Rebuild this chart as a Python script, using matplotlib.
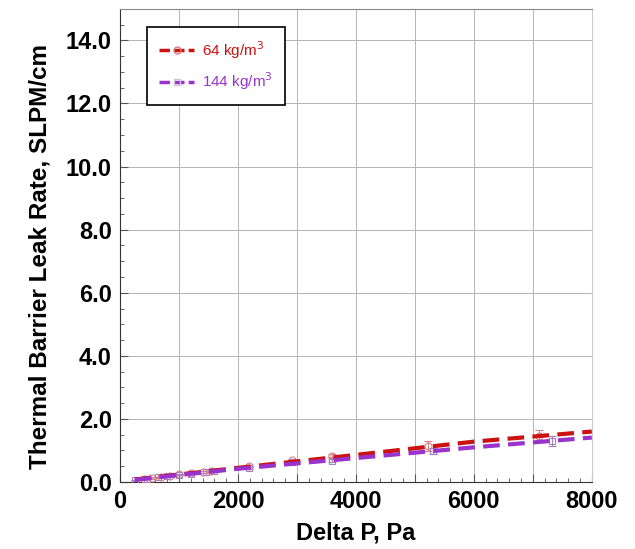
import matplotlib
matplotlib.use("Agg")
import matplotlib.pyplot as plt
from matplotlib.ticker import MultipleLocator, FuncFormatter

plt.rcParams['font.family'] = ['Liberation Sans', 'DejaVu Sans']

# measured leak rates, 64 kg/m3 insulation
dp_64 = [400, 550, 700, 850, 1000, 1200, 1400, 1550, 2190, 2920, 3590, 5220, 7100]
leak_64 = [0.10, 0.13, 0.17, 0.20, 0.24, 0.28, 0.32, 0.36, 0.51, 0.70, 0.83, 1.14, 1.46]
err_64 = [0.02, 0.02, 0.02, 0.02, 0.02, 0.02, 0.02, 0.03, 0.03, 0.04, 0.05, 0.17, 0.20]

# measured leak rates, 144 kg/m3 insulation
dp_144 = [250, 450, 650, 800, 1000, 1200, 1450, 1600, 2190, 2920, 3590, 5300, 7320]
leak_144 = [0.05, 0.10, 0.15, 0.18, 0.23, 0.27, 0.32, 0.35, 0.44, 0.62, 0.67, 0.98, 1.30]
err_144 = [0.02, 0.02, 0.02, 0.02, 0.02, 0.02, 0.02, 0.03, 0.03, 0.04, 0.05, 0.10, 0.15]

# curve fits through each data set
fit_dp = [250, 2000, 4000, 6000, 8000]
fit_64 = [0.08, 0.45, 0.86, 1.28, 1.60]
fit_144 = [0.07, 0.42, 0.76, 1.10, 1.41]

red = '#CC1111'
purple = '#9933CC'

fig = plt.figure(figsize=(6.35, 5.49), dpi=100)
ax = fig.add_axes([0.189, 0.122, 0.743, 0.862])

ax.errorbar(dp_64, leak_64, yerr=err_64, fmt='o', mfc='none', mec='#D88080',
            ecolor='#D88080', ms=5, mew=0.8, elinewidth=0.8, capsize=3, zorder=3)
ax.errorbar(dp_144, leak_144, yerr=err_144, fmt='s', mfc='none', mec='#A880C0',
            ecolor='#A880C0', ms=5, mew=0.8, elinewidth=0.8, capsize=3, zorder=3)
ax.plot(fit_dp, fit_64, color=red, lw=3, dashes=(4, 2), zorder=4)
ax.plot(fit_dp, fit_144, color=purple, lw=3, dashes=(4, 2), zorder=4)

# legend handles
h64, = ax.plot([], [], color=red, lw=2.5, dashes=(3, 1.2), marker='o', mfc='none',
               mec='#D88080', ms=5, markevery=[0])
h144, = ax.plot([], [], color=purple, lw=2.5, dashes=(3, 1.2), marker='s', mfc='none',
                mec='#D0C0E0', ms=4, markevery=[0])
leg = ax.legend([h64, h144], ['64 kg/m$^3$', '144 kg/m$^3$'],
                loc='upper left', bbox_to_anchor=(0.057, 0.962), fontsize=11,
                frameon=True, fancybox=False, edgecolor='black', framealpha=1,
                borderpad=0.8, labelspacing=0.65, handlelength=2.3, handletextpad=0.5,
                borderaxespad=0)
leg.get_frame().set_linewidth(1.2)
leg.get_texts()[0].set_color(red)
leg.get_texts()[1].set_color(purple)

ax.set_xlim(0, 8000)
ax.set_ylim(0, 15)
ax.xaxis.set_major_locator(MultipleLocator(1000))
ax.xaxis.set_minor_locator(MultipleLocator(200))
ax.xaxis.set_major_formatter(FuncFormatter(lambda v, p: f'{v:.0f}' if v % 2000 == 0 else ''))
ax.set_yticks([0, 2, 4, 6, 8, 10, 12, 14])
ax.yaxis.set_minor_locator(MultipleLocator(0.5))
ax.yaxis.set_major_formatter(FuncFormatter(lambda v, p: f'{v:.1f}'))

ax.tick_params(which='both', direction='in', color='#555555')
ax.tick_params(which='major', length=6, labelsize=17, pad=6)
ax.tick_params(which='minor', length=3)
for lab in ax.get_xticklabels() + ax.get_yticklabels():
    lab.set_fontweight('bold')

ax.grid(True, which='major', color='#B5B5B5', lw=0.7)
ax.set_axisbelow(True)

ax.spines['left'].set_color('#333333')
ax.spines['bottom'].set_color('#333333')
ax.spines['top'].set_color('#888888')
ax.spines['right'].set_color('#CCCCCC')

ax.set_xlabel('Delta P, Pa', fontsize=17, fontweight='bold', labelpad=6)
ax.set_ylabel('Thermal Barrier Leak Rate, SLPM/cm', fontsize=17.5, fontweight='bold')
ax.yaxis.set_label_coords(-0.145, 0.476)

fig.savefig('out.png', dpi=100)
